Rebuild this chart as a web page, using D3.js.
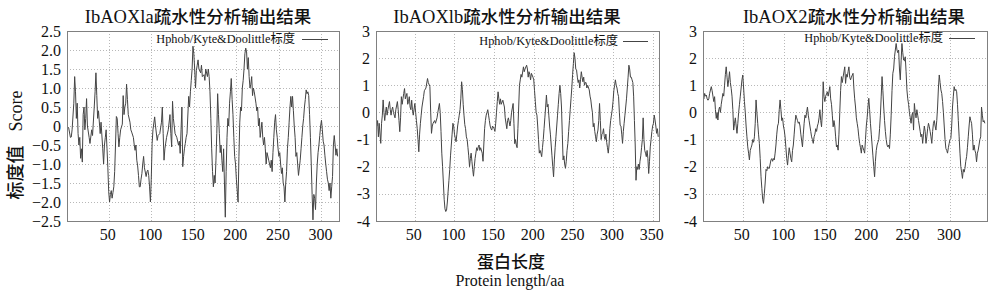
<!DOCTYPE html>
<html><head><meta charset="utf-8">
<script src="https://cdn.jsdelivr.net/npm/d3@7"></script>
<style>
html,body{margin:0;padding:0;background:#fff;}
svg{display:block;}
</style></head>
<body>
<svg id="chart" width="1000" height="299"></svg>
<script>
// ---------- data (residue position, hydropathy score) ----------
const titles = ["IbAOXla疏水性分析输出结果", "IbAOXlb疏水性分析输出结果", "IbAOX2疏水性分析输出结果"];
const titleLatin = ["IbAOXla", "IbAOXlb", "IbAOX2"];
const legendLabel = "Hphob/Kyte&Doolittle标度";
const xTicks = [[50,100,150,200,250,300],[50,100,150,200,250,300,350],[50,100,150,200,250,300]];
const yTicks1 = [2.5,2.0,1.5,1.0,0.5,0,-0.5,-1.0,-1.5,-2.0,-2.5];
const yTicks23 = [3,2,1,0,-1,-2,-3,-4];
const xDomains = [[1,320],[1,358],[2,344]];
const yDomains = [[-2.5,2.5],[-4,3],[-4,3]];

const aox1a = [[1,0],[3,-0.05],[5,-0.3],[6,-0.29],[7,-0.1],[9,0.6],[10,1.3],[11,0.9],[12,0.2],[13,0.6],[14,-0.2],[15,-0.5],[16,-0.3],[17,-0.85],[18,-0.6],[19,-0.95],[20,0.3],[21,0.5],[22,-0.1],[23,0.2],[24,0.72],[25,0.0],[27,-0.3],[28,-0.46],[30,-0.1],[31,-0.25],[33,0.5],[34,0.9],[35,1.4],[36,0.8],[37,0.2],[38,0.4],[40,-0.2],[41,0.1],[43,-0.6],[44,-1.0],[45,-0.5],[46,-0.3],[47,-0.1],[48,-0.6],[49,-1.1],[50,-1.73],[51,-2.0],[52,-1.8],[53,-1.7],[54,-1.9],[55,-1.75],[56,-1.6],[57,-1.2],[58,-0.5],[59,0.25],[60,0.2],[61,-0.2],[62,-0.55],[63,-0.3],[64,-0.1],[66,0.05],[67,0.8],[68,0.3],[69,0.5],[70,0.6],[71,1.1],[72,0.7],[73,0.3],[75,0.1],[76,-0.1],[77,-0.16],[79,-0.3],[80,-0.5],[81,-0.64],[82,-0.5],[83,-0.9],[84,-1.05],[85,-1.3],[86,-1.6],[87,-1.6],[88,-1.4],[89,-1.25],[90,-1.0],[91,-0.8],[92,-1.1],[94,-1.33],[95,-1.2],[96,-1.16],[97,-1.3],[98,-1.6],[99,-2.0],[100,-1.4],[101,-0.46],[102,-0.1],[104,0.24],[105,0.0],[107,-0.38],[108,-0.25],[110,-0.2],[112,0.1],[113,0.5],[114,-0.2],[115,-0.9],[116,-0.6],[117,-0.45],[118,-0.3],[120,-0.1],[122,0.3],[123,-0.2],[124,-0.55],[125,0.65],[126,0.2],[127,0.0],[128,-0.2],[130,-0.3],[132,-0.5],[133,-0.4],[134,-0.72],[135,-0.1],[136,0.5],[137,-1.07],[138,-0.8],[139,-0.6],[140,-0.46],[141,-0.3],[142,-0.2],[144,0.78],[145,0.5],[146,0.9],[147,1.2],[148,1.5],[149,2.1],[150,1.9],[151,1.5],[152,1.0],[153,1.46],[154,1.6],[155,1.74],[156,1.5],[158,1.4],[159,1.6],[160,1.3],[162,1.35],[163,1.2],[164,1.5],[166,1.3],[167,1.5],[168,1.3],[169,0.9],[170,0.2],[171,-0.6],[172,-1.2],[173,-1.6],[174,-1.3],[175,-1.5],[176,-0.9],[177,-0.2],[178,0.85],[179,0.3],[180,-0.2],[181,-0.7],[182,-0.5],[183,-0.9],[184,-1.2],[185,-0.6],[186,-1.5],[187,-2.4],[188,-1.2],[189,-0.3],[190,0.2],[191,0.0],[192,0.6],[193,0.9],[194,1.25],[195,0.7],[196,0.3],[197,-0.3],[198,-0.8],[199,-1.0],[200,-1.4],[202,-2.0],[203,-0.8],[204,0.1],[205,0.5],[206,0.4],[207,1.0],[208,1.2],[209,1.5],[210,1.9],[211,2.05],[212,1.95],[213,1.5],[214,1.8],[215,1.3],[216,1.0],[217,1.1],[218,1.3],[219,0.8],[220,1.0],[221,0.9],[223,0.6],[224,0.4],[225,0.5],[226,0.0],[227,0.2],[228,-0.3],[229,-0.1],[230,0.1],[231,-0.3],[232,-0.5],[233,-0.3],[234,-0.6],[235,-1.0],[236,-0.7],[238,-0.9],[240,-1.1],[241,-0.9],[242,-1.2],[243,-0.7],[244,-0.3],[245,0.1],[246,0.3],[247,-0.1],[248,-0.3],[249,-0.6],[250,-0.8],[251,-0.7],[252,-1.0],[253,-1.25],[254,-1.1],[255,-1.5],[256,-1.6],[257,-2.0],[258,-1.5],[259,-1.2],[260,-0.6],[261,-0.3],[262,0.1],[263,0.5],[264,0.78],[265,0.5],[266,0.78],[267,0.4],[268,0.0],[269,-0.3],[270,-0.8],[271,-0.7],[272,-1.0],[273,-1.3],[275,-0.9],[276,-0.6],[277,-0.3],[278,0.0],[279,0.2],[280,0.5],[281,0.7],[282,0.95],[283,0.85],[284,0.9],[285,0.8],[286,0.3],[287,-0.3],[288,-1.0],[289,-1.8],[290,-2.47],[291,-1.8],[292,-1.9],[293,-2.2],[294,-1.5],[295,-1.0],[296,-0.7],[297,-0.5],[298,-0.25],[299,0.0],[300,0.15],[301,-0.1],[302,-0.4],[303,-0.5],[304,-0.77],[305,-1.0],[306,-1.2],[307,-1.4],[308,-1.5],[309,-1.7],[310,-1.5],[311,-1.9],[312,-1.6],[313,-1.33],[314,-0.5],[315,-0.25],[316,-0.5],[317,-0.77],[318,-0.6],[319,-0.8]];

const aox1b = [[1,-0.2],[2,-0.5],[3,-0.3],[4,-0.9],[5,-0.4],[7,-1.14],[8,-0.4],[9,-0.1],[10,0.46],[11,0.0],[12,-0.3],[13,0.0],[14,0.2],[15,-0.1],[16,0.1],[18,0.4],[19,0.1],[20,-0.1],[21,0.1],[22,0.2],[23,0.0],[25,-0.2],[26,0.1],[28,0.4],[29,0.1],[30,-0.3],[31,-0.71],[32,-0.2],[33,0.58],[34,0.3],[35,0.5],[36,0.7],[37,0.88],[38,0.5],[40,0.7],[41,0.3],[42,0.4],[43,0.58],[44,0.2],[45,0.1],[46,0.45],[47,0.1],[48,-0.1],[50,0.33],[51,0.0],[52,-0.3],[53,-0.6],[54,-1.0],[55,-1.45],[56,-0.8],[57,-0.4],[58,-0.1],[59,0.2],[61,0.58],[62,0.8],[64,0.9],[66,1.25],[67,1.1],[69,0.95],[70,0.0],[71,-0.77],[72,-0.5],[73,-0.4],[75,-0.3],[76,-0.4],[78,-0.2],[79,0.0],[81,0.33],[82,0.0],[83,-0.7],[84,-1.5],[85,-2.0],[86,-2.6],[87,-3.2],[88,-3.55],[89,-3.65],[90,-3.6],[91,-3.3],[92,-2.9],[93,-2.5],[94,-2.1],[95,-1.6],[96,-1.2],[97,-0.8],[98,-0.4],[99,-0.5],[100,-0.8],[101,-0.95],[102,-1.08],[103,-0.8],[104,-0.5],[105,-0.3],[106,-0.1],[107,0.1],[108,0.5],[109,1.13],[110,0.85],[111,0.3],[112,-0.1],[113,-0.45],[114,-0.6],[115,-0.9],[116,-1.0],[117,-1.3],[118,-1.6],[119,-2.0],[120,-1.7],[121,-1.5],[122,-1.8],[123,-2.1],[124,-2.35],[125,-2.0],[126,-1.7],[127,-1.5],[128,-1.3],[129,-1.4],[130,-1.27],[131,-1.2],[132,-1.4],[133,-1.3],[135,-1.5],[136,-1.8],[137,-1.2],[138,-0.6],[139,-0.3],[140,-0.1],[141,0.0],[142,0.1],[143,-0.1],[144,-0.3],[145,-0.5],[146,-0.6],[147,-0.65],[148,-0.5],[150,-0.6],[151,-0.7],[152,-0.4],[153,0.0],[154,0.4],[155,0.76],[156,0.5],[157,0.3],[158,0.5],[159,0.3],[161,0.45],[163,0.2],[164,-0.2],[166,-0.6],[167,-0.3],[168,-0.2],[170,-0.5],[171,-0.3],[172,0.0],[174,0.33],[175,-0.4],[176,-1.15],[177,-1.0],[178,-1.2],[179,-1.3],[180,-0.6],[181,0.2],[182,1.0],[183,1.2],[184,1.4],[185,1.3],[187,1.68],[188,1.5],[189,1.6],[191,1.74],[192,1.6],[193,1.3],[194,1.5],[195,1.4],[196,1.2],[197,1.44],[199,1.3],[200,1.2],[201,0.8],[202,0.4],[203,0.0],[204,-0.1],[205,-0.5],[206,-1.0],[207,-1.5],[208,-1.4],[209,-1.5],[210,-1.63],[211,-1.3],[212,-1.0],[213,-0.6],[214,-0.2],[215,0.2],[216,0.64],[217,0.2],[218,0.3],[219,-0.1],[220,-0.5],[221,-0.8],[222,-1.2],[223,-1.6],[224,-2.0],[225,-2.37],[226,-1.75],[227,-1.3],[228,-0.9],[229,-0.5],[230,-0.1],[231,0.3],[232,0.7],[233,1.0],[234,0.7],[235,0.2],[236,-0.8],[237,-1.75],[238,-1.6],[239,-1.9],[240,-2.06],[241,-1.8],[242,-1.4],[243,-1.14],[244,-0.7],[245,-0.3],[246,0.1],[247,0.5],[248,0.9],[249,1.4],[250,1.8],[251,2.2],[252,2.0],[253,1.6],[254,1.56],[255,1.3],[256,1.1],[257,1.2],[258,0.9],[259,1.2],[260,1.5],[261,1.3],[262,1.13],[263,1.3],[264,1.0],[265,1.1],[266,1.1],[267,0.9],[268,1.0],[270,0.83],[271,0.6],[272,0.46],[273,0.2],[274,0.0],[275,-0.53],[276,-0.4],[277,-0.7],[278,-0.9],[279,-1.08],[280,-0.8],[281,-0.65],[282,-0.3],[283,0.33],[284,-0.3],[285,-1.0],[286,-0.8],[287,-0.77],[288,-0.6],[289,-0.9],[290,-1.0],[291,-0.8],[292,-1.1],[293,-1.3],[294,-1.5],[295,-1.2],[296,-0.6],[297,-0.3],[298,-0.1],[299,0.1],[300,0.4],[301,0.8],[302,1.0],[303,1.2],[304,1.0],[305,0.9],[306,0.7],[307,0.58],[308,0.0],[309,-0.47],[310,-0.5],[311,-0.8],[312,-1.14],[313,-0.7],[314,-0.4],[315,-0.1],[316,0.2],[317,0.5],[318,0.9],[319,1.3],[320,1.74],[321,1.6],[322,1.3],[323,1.3],[324,1.2],[325,1.1],[326,0.6],[327,-0.3],[328,-1.2],[329,-2.5],[330,-2.0],[331,-2.1],[332,-1.9],[333,-2.1],[334,-1.8],[335,-1.6],[336,-1.3],[337,-1.0],[338,-0.2],[339,-1.0],[340,-1.4],[341,-1.5],[342,-1.63],[343,-1.4],[344,-1.7],[345,-2.25],[346,-1.8],[347,-1.27],[348,-1.0],[349,-0.7],[350,-0.5],[351,-0.4],[352,-0.1],[353,-0.28],[354,-0.5],[355,-0.77],[356,-0.6],[357,-0.9]];

const aox2 = [[2,0.6],[3,0.5],[4,0.7],[5,0.6],[6,0.64],[7,0.5],[8,0.45],[9,0.5],[10,0.7],[12,0.95],[13,0.8],[14,0.6],[15,0.4],[16,0.58],[17,0.1],[18,-0.22],[19,0.0],[20,-0.28],[21,0.1],[22,0.2],[23,0.0],[24,0.3],[25,0.5],[26,0.7],[27,0.6],[28,1.0],[29,1.4],[30,1.68],[31,1.3],[32,0.95],[33,1.2],[34,1.5],[35,1.1],[36,0.89],[37,0.6],[38,0.1],[39,-0.65],[40,-0.4],[41,-0.2],[42,-0.5],[43,-0.77],[44,-0.4],[45,0.0],[46,0.3],[47,0.6],[48,0.9],[49,1.2],[50,1.38],[51,0.9],[52,0.4],[53,0.0],[54,-0.5],[55,-0.9],[56,-1.27],[57,-1.5],[58,-1.75],[59,-1.4],[60,-1.3],[61,-1.2],[62,-1.0],[63,-1.1],[64,-0.9],[65,-0.4],[66,0.46],[67,0.0],[68,-0.4],[69,-0.8],[70,-1.14],[71,-1.7],[72,-2.37],[73,-2.8],[74,-3.2],[75,-3.35],[76,-3.0],[77,-2.6],[78,-2.1],[79,-2.15],[80,-2.0],[81,-2.06],[82,-2.06],[83,-1.9],[84,-1.75],[85,-1.7],[86,-1.8],[87,-1.7],[88,-1.75],[89,-1.5],[90,-1.2],[91,-0.8],[92,-0.5],[93,-0.4],[94,0.1],[95,0.46],[96,0.1],[97,-0.3],[98,-0.2],[99,-0.5],[100,-0.65],[101,-0.9],[102,-1.3],[103,-1.7],[104,-1.94],[105,-1.6],[106,-1.3],[107,-1.5],[108,-1.7],[109,-1.82],[110,-1.4],[111,-1.2],[112,-0.8],[113,-0.4],[114,-0.1],[115,-0.2],[116,-0.3],[117,-0.4],[118,-0.35],[119,-0.5],[120,-0.8],[122,-1.27],[123,-0.8],[124,-0.4],[125,-0.1],[126,-0.2],[127,0.0],[128,0.2],[129,-0.1],[130,-0.3],[131,-0.5],[132,-0.7],[133,-0.9],[134,-1.0],[135,-1.14],[136,-0.9],[137,-0.8],[138,-0.6],[139,-0.7],[140,-0.5],[141,-0.4],[142,-0.2],[143,0.1],[144,-0.3],[145,-0.53],[146,0.0],[147,1.13],[148,0.58],[149,0.4],[150,0.6],[152,0.76],[153,0.6],[155,0.95],[156,0.5],[157,0.3],[158,-0.1],[159,-0.53],[160,-0.3],[161,-0.5],[162,-0.9],[163,-1.27],[164,-1.2],[165,-1.39],[166,-0.8],[167,0.0],[168,0.8],[169,1.32],[170,1.1],[171,1.3],[173,1.68],[174,1.07],[175,1.4],[176,1.3],[177,1.5],[178,1.68],[179,1.3],[180,1.2],[181,1.3],[183,1.44],[184,0.9],[185,0.5],[186,0.2],[187,-0.2],[188,-0.4],[189,-0.6],[190,-0.9],[191,-1.14],[192,-1.3],[193,-1.5],[194,-1.2],[195,-1.3],[196,-1.4],[197,-1.5],[198,-1.0],[199,-0.5],[200,-0.2],[201,0.2],[202,0.52],[203,0.1],[204,-0.4],[205,-0.8],[206,-1.2],[207,-1.6],[208,-2.0],[209,-2.37],[210,-1.8],[211,-1.4],[212,-1.2],[213,-1.1],[214,-1.0],[215,-0.6],[216,-0.1],[217,0.6],[218,1.32],[219,0.8],[220,0.2],[221,-0.3],[222,-0.7],[223,-1.0],[224,-1.2],[225,-1.27],[226,-1.2],[227,-1.33],[228,-0.8],[229,-0.1],[230,0.8],[231,1.44],[232,1.6],[233,2.05],[234,2.3],[235,2.54],[236,2.3],[237,2.2],[238,2.3],[239,1.6],[240,1.2],[241,1.9],[242,2.54],[243,2.2],[244,1.93],[245,1.9],[246,2.05],[247,1.5],[248,0.83],[249,0.5],[250,0.3],[251,0.0],[252,-0.2],[253,-0.4],[254,-0.1],[255,0.0],[256,-0.65],[257,0.33],[258,0.0],[259,-0.2],[260,0.1],[261,-0.1],[262,-0.3],[263,-0.5],[264,-0.7],[265,-0.9],[266,-0.8],[267,-1.14],[268,-0.8],[269,-0.5],[270,-0.7],[271,-1.14],[272,-0.9],[273,-0.6],[274,-0.4],[275,-0.53],[276,-0.7],[277,-0.9],[278,-1.14],[279,-0.7],[280,-0.4],[281,-0.3],[282,-0.5],[283,-0.65],[284,-0.3],[285,0.2],[286,0.9],[287,1.38],[288,1.1],[289,0.83],[290,0.7],[291,0.4],[292,0.0],[293,-0.5],[294,-1.0],[295,-1.33],[296,-1.4],[297,-1.5],[298,-1.3],[299,-1.14],[300,-1.0],[301,-0.96],[302,-0.5],[303,0.2],[304,0.6],[305,0.95],[306,0.8],[307,0.85],[308,0.76],[309,0.3],[310,-0.3],[311,-0.9],[312,-1.5],[313,-2.0],[314,-2.2],[315,-2.43],[316,-2.1],[317,-2.2],[318,-2.06],[319,-1.8],[320,-1.63],[321,-1.3],[322,-0.9],[323,-0.5],[324,-0.16],[325,-0.3],[326,-0.4],[327,-0.8],[328,-1.39],[329,-1.2],[330,-1.4],[331,-1.5],[332,-1.82],[333,-1.5],[334,-1.39],[335,-1.2],[336,-1.0],[337,-0.9],[338,0.2],[339,-0.1],[340,-0.35],[341,-0.3],[342,-0.4]];

const series = [aox1a, aox1b, aox2];

// ---------- layout ----------
const SERIF = "'Liberation Serif','Times New Roman',serif";
const CJK = "'Noto Sans CJK SC','Liberation Serif',serif";
const panels = [
  {x0:67, x1:338.5, y0:31, y1:221, titleX:198, legEnd:295, legLine:[302,328], legY:39, tickFmt:d => d===0 ? "0" : d3.format(".1f")(d), yTicks:yTicks1},
  {x0:376, x1:659, y0:31, y1:221, titleX:507, legEnd:618, legLine:[623,648], legY:41, tickFmt:d => String(d), yTicks:yTicks23},
  {x0:703, x1:986.5, y0:31, y1:221, titleX:854, legEnd:943, legLine:[949,975], legY:38, tickFmt:d => String(d), yTicks:yTicks23}
];

const svg = d3.select("#chart");

panels.forEach((p, i) => {
  const x = d3.scaleLinear().domain(xDomains[i]).range([p.x0, p.x1]);
  const y = d3.scaleLinear().domain(yDomains[i]).range([p.y1, p.y0]);
  const g = svg.append("g");

  // grid
  g.selectAll(".hg").data(p.yTicks.filter(t => t !== yDomains[i][0] && t !== yDomains[i][1]))
    .enter().append("line")
    .attr("x1", p.x0).attr("x2", p.x1)
    .attr("y1", d => Math.round(y(d)) + 0.5).attr("y2", d => Math.round(y(d)) + 0.5)
    .attr("stroke", "#b8b8b8").attr("stroke-width", 1).attr("stroke-dasharray", "1,2");
  g.selectAll(".vg").data(xTicks[i]).enter().append("line")
    .attr("x1", d => Math.round(x(d)) + 0.5).attr("x2", d => Math.round(x(d)) + 0.5)
    .attr("y1", p.y0).attr("y2", p.y1)
    .attr("stroke", "#b8b8b8").attr("stroke-width", 1).attr("stroke-dasharray", "1,2");

  // y tick labels
  g.selectAll(".yl").data(p.yTicks).enter().append("text")
    .attr("x", p.x0 - 6).attr("y", d => y(d) + 5.5)
    .attr("text-anchor", "end")
    .style("font-family", SERIF).style("font-size", "16px").attr("fill", "#111")
    .text(p.tickFmt);
  // x tick labels
  g.selectAll(".xl").data(xTicks[i]).enter().append("text")
    .attr("x", d => x(d) - 1).attr("y", 240)
    .attr("text-anchor", "middle")
    .style("font-family", SERIF).style("font-size", "16px").attr("fill", "#111")
    .text(d => d);

  // clip + line
  const clipId = "clip" + i;
  svg.append("clipPath").attr("id", clipId).append("rect")
    .attr("x", p.x0).attr("y", p.y0).attr("width", p.x1 - p.x0).attr("height", p.y1 - p.y0);
  const line = d3.line().x(d => x(d[0])).y(d => y(d[1]));
  g.append("path").datum(series[i])
    .attr("clip-path", `url(#${clipId})`)
    .attr("d", line).attr("fill", "none")
    .attr("stroke", "#444").attr("stroke-width", 1).attr("stroke-linejoin", "miter");

  // frame
  g.append("rect").attr("x", Math.round(p.x0) + 0.5).attr("y", p.y0 + 0.5)
    .attr("width", Math.round(p.x1 - p.x0)).attr("height", p.y1 - p.y0)
    .attr("fill", "none").attr("stroke", "#808080").attr("stroke-width", 1);

  // title
  const t = g.append("text").attr("x", p.titleX).attr("y", 23).attr("text-anchor", "middle")
    .attr("fill", "#111");
  t.append("tspan").style("font-family", SERIF).style("font-size", "18.5px").text(titleLatin[i]);
  t.append("tspan").style("font-family", CJK).style("font-weight", "500").style("font-size", "17.5px")
    .text(titles[i].slice(titleLatin[i].length));

  // legend
  const lt = g.append("text").attr("x", p.legEnd).attr("y", p.legY + 4).attr("text-anchor", "end")
    .style("font-size", "12.3px").attr("fill", "#111");
  lt.append("tspan").style("font-family", SERIF).text(legendLabel.slice(0, 20));
  lt.append("tspan").style("font-family", CJK).text(legendLabel.slice(20));
  g.append("line").attr("x1", p.legLine[0]).attr("x2", p.legLine[1])
    .attr("y1", p.legY + 0.5).attr("y2", p.legY + 0.5)
    .attr("stroke", "#444").attr("stroke-width", 1);
});

// y axis label
const yl = svg.append("text").attr("transform", "translate(22,145) rotate(-90)")
  .attr("text-anchor", "middle").attr("fill", "#111").style("font-size", "18px");
yl.append("tspan").style("font-family", CJK).style("font-weight", "500").text("标度值");
yl.append("tspan").attr("dx", 14).style("font-family", SERIF).text("Score");

// x axis label
svg.append("text").attr("x", 511).attr("y", 268).attr("text-anchor", "middle")
  .style("font-family", CJK).style("font-weight", "500").style("font-size", "17px").attr("fill", "#111")
  .text("蛋白长度");
svg.append("text").attr("x", 510).attr("y", 286).attr("text-anchor", "middle")
  .style("font-family", SERIF).style("font-size", "16px").attr("fill", "#111")
  .text("Protein length/aa");
</script>
</body></html>
